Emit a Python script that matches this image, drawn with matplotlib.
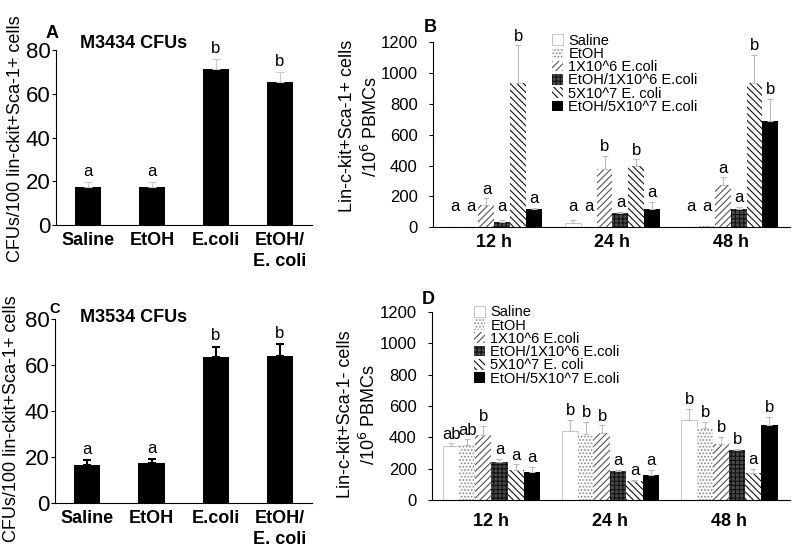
import matplotlib.pyplot as plt
import numpy as np

plt.rcParams['font.family'] = ['Liberation Sans', 'DejaVu Sans']
plt.rcParams['hatch.linewidth'] = 0.8

# ---- data ----
cfu_groups = ['Saline', 'EtOH', 'E.coli', 'EtOH/\nE. coli']
a_mean = [17.5, 17.5, 71.5, 65.5]
a_err = [2, 2, 4.5, 4.5]
a_sig = ['a', 'a', 'b', 'b']
c_mean = [16.5, 17.5, 63.5, 64]
c_err = [2, 1.5, 4.5, 5]
c_sig = ['a', 'a', 'b', 'b']

times = ['12 h', '24 h', '48 h']
series = ['Saline', 'EtOH', '1X10^6 E.coli', 'EtOH/1X10^6 E.coli',
          '5X10^7 E. coli', 'EtOH/5X10^7 E.coli']

# panel B: rows = series, cols = time
b_mean = [[5, 26, 5],
          [5, 5, 8],
          [145, 377, 271],
          [36, 94, 116],
          [935, 396, 935],
          [118, 118, 689]]
b_err = [[0, 21, 0],
         [0, 0, 4],
         [42, 84, 52],
         [9, 6, 17],
         [243, 44, 179],
         [7, 48, 142]]
b_sig = [['a', 'a', 'a'],
         ['a', 'a', 'a'],
         ['a', 'b', 'a'],
         ['a', 'a', 'a'],
         ['b', 'b', 'b'],
         ['a', 'a', 'b']]

# panel D
d_mean = [[344, 441, 510],
          [350, 422, 461],
          [412, 427, 357],
          [242, 185, 318],
          [191, 119, 174],
          [180, 157, 476]]
d_err = [[17, 69, 74],
         [37, 77, 38],
         [61, 49, 46],
         [19, 5, 7],
         [36, 11, 22],
         [32, 34, 55]]
d_sig = [['ab', 'b', 'b'],
         ['ab', 'b', 'b'],
         ['b', 'b', 'b'],
         ['a', 'a', 'b'],
         ['a', 'a', 'a'],
         ['a', 'a', 'b']]

# styles for the six series
face = ['white', 'white', 'white', '#4a4a4a', 'white', 'black']
hatch = [None, '.....', '/////', '++++', '\\\\\\\\\\', None]
hcol = ['#b0b0b0', '#888888', '#555555', '#111111', '#111111', 'black']

fig = plt.figure(figsize=(8, 5.6), dpi=100)


def cfu_panel(rect, mean, err, sig, ecol, elw, cap):
    ax = fig.add_axes(rect)
    x = np.arange(len(mean))
    ax.bar(x, mean, width=0.41, color='black')
    ax.errorbar(x, mean, yerr=[np.zeros(len(err)), err], fmt='none',
                ecolor=ecol, elinewidth=elw, capsize=cap, capthick=elw)
    for xi, m, e, s in zip(x, mean, err, sig):
        ax.text(xi, m + e + 1.5, s, ha='center', va='bottom', fontsize=12)
    ax.set_xlim(-0.5, 3.5)
    ax.set_ylim(0, 80)
    ax.set_yticks([0, 20, 40, 60, 80])
    ax.set_xticks(x)
    ax.set_xticklabels(cfu_groups, fontsize=13, fontweight='bold')
    for lab in ax.get_xticklabels():
        lab.set_linespacing(1.3)
    ax.tick_params(axis='x', length=0, pad=5)
    ax.tick_params(axis='y', labelsize=16, length=3, pad=1)
    for sp in ['top', 'right']:
        ax.spines[sp].set_visible(False)
    return ax


def time_panel(rect, mean, err, sig, xlim, pad, leg_xy):
    ax = fig.add_axes(rect)
    w = 0.135
    g = np.arange(len(times))
    for i in range(len(series)):
        xs = g + (i - 2.5) * w
        ax.bar(xs, mean[i], width=w, color=face[i], hatch=hatch[i],
               edgecolor=hcol[i], linewidth=0.5 if i == 0 else 0,
               label=series[i])
        ax.errorbar(xs, mean[i], yerr=[np.zeros(3), err[i]], fmt='none',
                    ecolor='#bdbdbd', elinewidth=0.8, capsize=2.5,
                    capthick=0.8)
        for xi, m, e, s in zip(xs, mean[i], err[i], sig[i]):
            ax.text(xi, max(m + e, 75) + 12, s, ha='center', va='bottom',
                    fontsize=12)
    ax.set_xlim(*xlim)
    ax.set_ylim(0, 1200)
    ax.set_yticks(range(0, 1201, 200))
    ax.set_xticks(g)
    ax.set_xticklabels(times, fontsize=13, fontweight='bold')
    ax.tick_params(axis='x', length=0, pad=pad)
    ax.tick_params(axis='y', labelsize=12, length=3, pad=8)
    for sp in ['top', 'right']:
        ax.spines[sp].set_visible(False)
    ax.legend(loc='upper left', bbox_to_anchor=leg_xy, frameon=False,
              fontsize=10.5, borderpad=0, borderaxespad=0,
              handlelength=0.75, handleheight=0.75, handletextpad=0.35,
              labelspacing=-0.05)
    return ax


cfu_panel([0.07, 0.598, 0.32, 0.3125], a_mean, a_err, a_sig,
          '#c8c8c8', 0.8, 3)
cfu_panel([0.069, 0.1023, 0.321, 0.328], c_mean, c_err, c_sig,
          'black', 1.5, 3)
time_panel([0.541, 0.594, 0.446, 0.331], b_mean, b_err, b_sig,
           (-0.522, 2.5), 5, (0.335, 1.045))
time_panel([0.54, 0.107, 0.4475, 0.336], d_mean, d_err, d_sig,
           (-0.5, 2.51), 9, (0.118, 1.035))

# panel letters and titles
fig.text(0.065, 1 - 33 / 560, 'A', fontsize=13, fontweight='bold',
         ha='center', va='center')
fig.text(0.1, 1 - 43 / 560, 'M3434 CFUs', fontsize=13, fontweight='bold',
         ha='left', va='center')
fig.text(55 / 800, 1 - 309 / 560, 'C', fontsize=10.5, fontweight='bold',
         ha='center', va='center')
fig.text(0.1, 1 - 317 / 560, 'M3534 CFUs', fontsize=13, fontweight='bold',
         ha='left', va='center')
fig.text(430 / 800, 1 - 28 / 560, 'B', fontsize=13, fontweight='bold',
         ha='center', va='center')
fig.text(428 / 800, 1 - 300 / 560, 'D', fontsize=13, fontweight='bold',
         ha='center', va='center')

# y labels
fig.text(16 / 800, 1 - 139 / 560, 'CFUs/100 lin-ckit+Sca-1+ cells',
         fontsize=13, rotation=90, ha='center', va='center')
fig.text(12 / 800, 1 - 419 / 560, 'CFUs/100 lin-ckit+Sca-1+ cells',
         fontsize=13, rotation=90, ha='center', va='center')
fig.text(360 / 800, 1 - 126 / 560, 'Lin-c-kit+Sca-1+ cells\n/10$^6$ PBMCs',
         fontsize=13, rotation=90, ha='center', va='center',
         multialignment='center', linespacing=1.25)
fig.text(358 / 800, 1 - 414 / 560, 'Lin-c-kit+Sca-1- cells\n/10$^6$ PBMCs',
         fontsize=13, rotation=90, ha='center', va='center',
         multialignment='center', linespacing=1.25)

plt.savefig('out.png', dpi=100)
